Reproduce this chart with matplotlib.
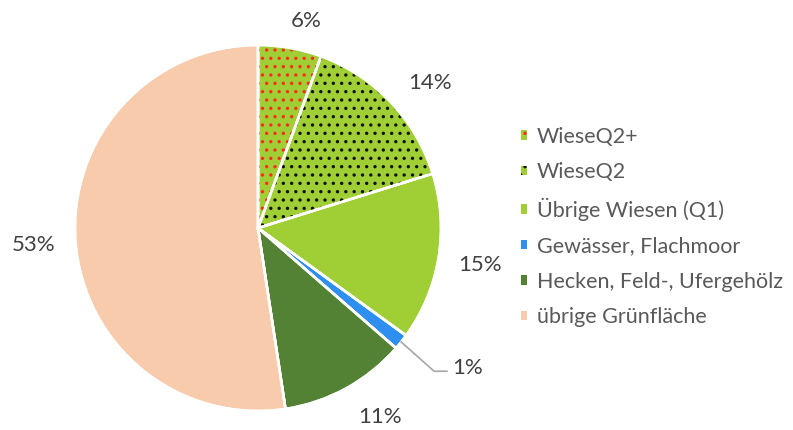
import numpy as np
import matplotlib.pyplot as plt
from matplotlib.patches import Rectangle, Wedge

# slice shares in percent (clockwise from 12 o'clock)
categories = ['WieseQ2+', 'WieseQ2', 'Übrige Wiesen (Q1)', 'Gewässer, Flachmoor',
              'Hecken, Feld-, Ufergehölz', 'übrige Grünfläche']
shares = [5.6, 14.6, 14.8, 1.4, 11.2, 52.4]
pct_labels = ['6%', '14%', '15%', '1%', '11%', '53%']

colors = ['#9fcf34', '#9fcf34', '#9fcf34', '#2e8ff0', '#548235', '#f8cbad']
hatch_colors = ['#ff2a1a', '#111111', None, None, None, None]

plt.rcParams['font.family'] = ['Lato', 'DejaVu Sans']
plt.rcParams['hatch.linewidth'] = 1.2

fig = plt.figure(figsize=(7.93, 4.30), dpi=100)
ax = fig.add_axes([0, 0, 1, 1])
R = 183.0
cx, cy = 258.0, 228.0

wedges, _ = ax.pie(shares, colors=colors, startangle=90, counterclock=False,
                   radius=1.0, center=(0, 0), frame=True,
                   wedgeprops=dict(edgecolor='white', linewidth=1.8))

# dotted overlay for the two hatched slices, then white borders again on top
for w, hc in zip(wedges, hatch_colors):
    if hc is None:
        continue
    ax.add_patch(Wedge((0, 0), 0.99, w.theta1, w.theta2, facecolor='none',
                       edgecolor=hc, linewidth=0, hatch='..'))
for w in wedges:
    ax.add_patch(Wedge((0, 0), 1.0, w.theta1, w.theta2, facecolor='none',
                       edgecolor='white', linewidth=1.8))

ax.set_xlim(-cx / R, (793 - cx) / R)
ax.set_ylim((cy - 430) / R, cy / R)
ax.set_aspect('auto')
ax.axis('off')

txt_color = '#404040'
fs = 16
for i, (w, lab) in enumerate(zip(wedges, pct_labels)):
    ang = (w.theta1 + w.theta2) / 2
    r = 1.23
    if i == 0:
        ang -= 3
        r = 1.16
    if i == 1:
        ang -= 3.5
    if i == 4:
        ang += 4
    mid = np.deg2rad(ang)
    if i == 3:
        # leader line for the tiny slice
        x0, y0 = np.cos(mid) * 1.0, np.sin(mid) * 1.0
        x1, y1 = x0 + 0.18, y0 - 0.16
        x2 = x1 + 0.07
        ax.plot([x0, x1, x2], [y0, y1, y1], color='#a6a6a6', lw=1.2)
        ax.text(x2 + 0.03, y1 + 0.02, lab, ha='left', va='center', fontsize=fs,
                color=txt_color)
        continue
    ax.text(np.cos(mid) * r, np.sin(mid) * r, lab, ha='center', va='center',
            fontsize=fs, color=txt_color)

# legend with small square keys
handles = []
for c, hc in zip(colors, hatch_colors):
    p = Rectangle((0, 0), 1, 1, facecolor=c, edgecolor=hc if hc else c, linewidth=0)
    if hc:
        p.set_hatch('..')
    handles.append(p)
leg = fig.legend(handles, categories, loc='center left', bbox_to_anchor=(0.657, 0.472),
                 frameon=False, fontsize=15.5, handlelength=0.3, handleheight=0.3,
                 handletextpad=0.45, labelspacing=0.72, borderaxespad=0, borderpad=0)
for t in leg.get_texts():
    t.set_color('#595959')

fig.savefig('out.png', dpi=100, facecolor='white')
